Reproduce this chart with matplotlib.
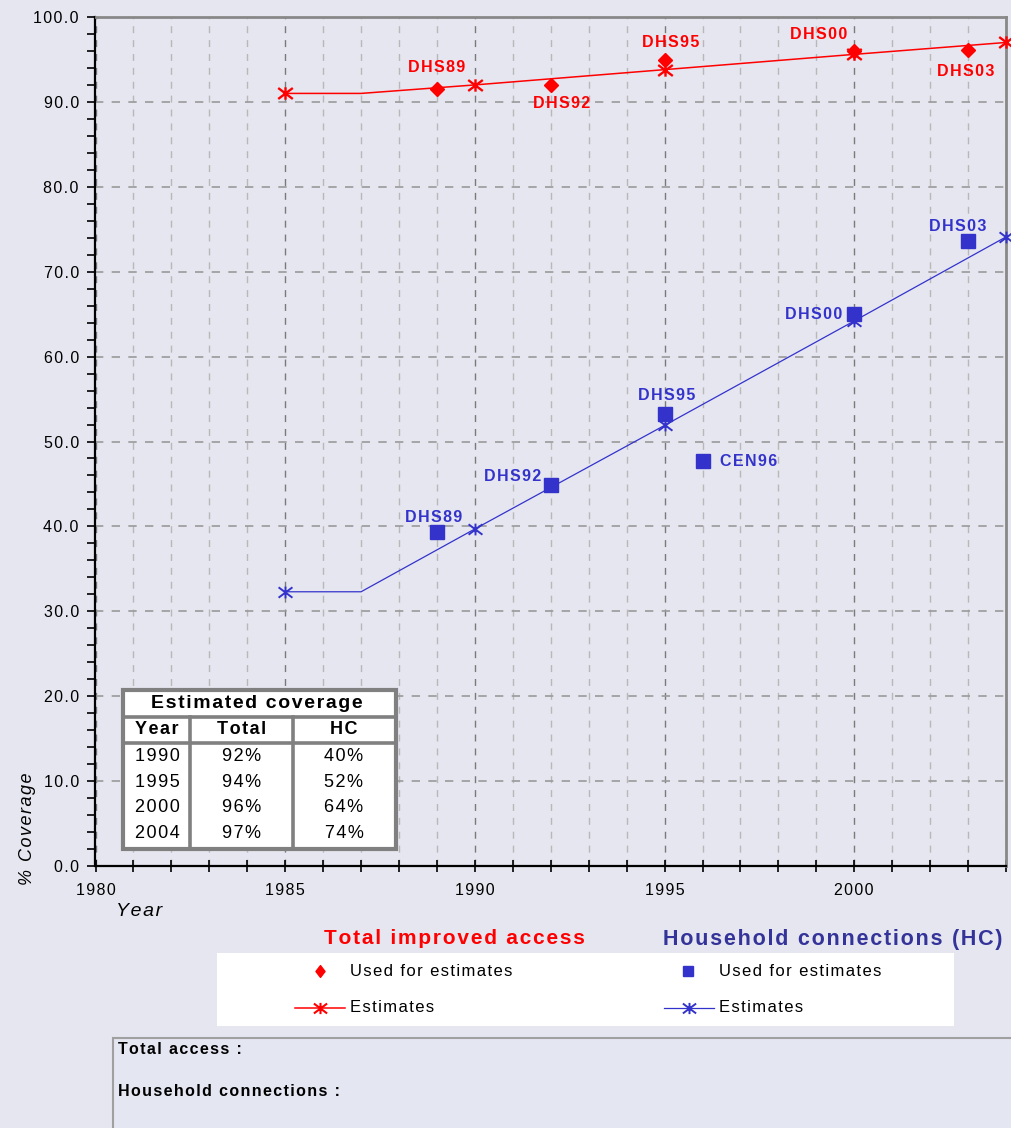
import matplotlib
matplotlib.use('Agg')
import matplotlib.pyplot as plt
from matplotlib.patches import Rectangle
from matplotlib.lines import Line2D
from matplotlib.path import Path
from matplotlib.ticker import MultipleLocator

plt.rcParams['font.family'] = ['Liberation Sans', 'DejaVu Sans']

# Datos del gráfico
total_est_years = [1985, 1987, 1990, 1995, 2000, 2004]
total_est = [91.0, 91.0, 92.0, 93.8, 95.6, 97.0]
total_srv_years = [1989, 1992, 1995, 2000, 2003]
total_srv = [91.5, 92.0, 94.9, 96.0, 96.1]
total_srv_labels = ['DHS89', 'DHS92', 'DHS95', 'DHS00', 'DHS03']

hc_est_years = [1985, 1987, 1990, 1995, 2000, 2004]
hc_est = [32.3, 32.3, 39.7, 51.9, 64.2, 74.1]
hc_srv_years = [1989, 1992, 1995, 1996, 2000, 2003]
hc_srv = [39.3, 44.9, 53.2, 47.7, 65.0, 73.6]
hc_srv_labels = ['DHS89', 'DHS92', 'DHS95', 'CEN96', 'DHS00', 'DHS03']

table_years = ['1990', '1995', '2000', '2004']
table_total = ['92%', '94%', '96%', '97%']
table_hc = ['40%', '52%', '64%', '74%']

# Posiciones de las etiquetas (desplazamiento en píxeles)
total_offsets = [(0, 22), (11, -19), (6, 18), (-36, 16), (-2, -21)]
hc_offsets = [(-3, 15), (-38, 8), (2, 19), (46, 0), (-41, 0), (-10, 15)]

RED = '#FF0000'
BLUE = '#3333CC'
NAVY = '#333399'
BG = '#E6E6F0'

W, H = 1012, 1128
fig = plt.figure(figsize=(W / 100, H / 100), dpi=100, facecolor=BG)


def fx(px):
    return px / W


def fy(py):
    return 1 - py / H


def sp(s):
    # espaciado entre letras con espacios finos
    return '\u200a'.join(s)


# Marcador tipo asterisco (X con barra vertical)
star = Path([(0, -0.85), (0, 0.85), (-1, -0.75), (1, 0.75), (-1, 0.75), (1, -0.75)],
            [Path.MOVETO, Path.LINETO, Path.MOVETO, Path.LINETO,
             Path.MOVETO, Path.LINETO])
# Rombo estrecho para la leyenda
thin_diamond = Path([(0, 1), (0.77, 0), (0, -1), (-0.77, 0), (0, 1)],
                    [Path.MOVETO, Path.LINETO, Path.LINETO, Path.LINETO,
                     Path.CLOSEPOLY])

ax = fig.add_axes([fx(95.5), fy(866), fx(1006) - fx(95.5), fy(17) - fy(866)])
ax.set_facecolor(BG)
ax.set_xlim(1980, 2004)
ax.set_ylim(0, 100)

ax.xaxis.set_minor_locator(MultipleLocator(1))
ax.yaxis.set_minor_locator(MultipleLocator(2))
xt = [1980, 1985, 1990, 1995, 2000]
ax.set_xticks(xt)
ax.set_xticklabels([sp(str(v)) for v in xt])
ax.set_yticks(range(0, 101, 10))
ax.set_yticklabels([sp(f'{v:.1f}') for v in range(0, 101, 10)])

ax.tick_params(axis='y', which='both', direction='out', length=6, width=1.2,
               labelsize=11.5, pad=6, colors='black')
ax.tick_params(axis='x', which='both', direction='inout', length=8, width=1.2,
               labelsize=11.5, pad=8)

dash = (0, (5, 5))
ax.xaxis.grid(True, which='major', color='#7A7A7A', linestyle=dash, lw=1)
ax.xaxis.grid(True, which='minor', color='#B8B8B8', linestyle=dash, lw=1)
ax.yaxis.grid(True, which='major', color='#9A9A9A', linestyle=dash, lw=1.2)
ax.yaxis.grid(False, which='minor')
ax.set_axisbelow(True)

ax.spines['left'].set_color('black')
ax.spines['left'].set_linewidth(1.6)
ax.spines['bottom'].set_color('black')
ax.spines['bottom'].set_linewidth(1.6)
ax.spines['top'].set_color('#888888')
ax.spines['top'].set_linewidth(2)
ax.spines['right'].set_color('#888888')
ax.spines['right'].set_linewidth(2)

# Total improved access
ax.plot(total_est_years, total_est, color=RED, lw=1.1, marker=star, ms=10.5,
        mew=1.7, markevery=[0, 2, 3, 4, 5], clip_on=False, zorder=3)
ax.plot(total_srv_years, total_srv, linestyle='none', marker='D', ms=6.8,
        color=RED, zorder=4)
for x, y, lab, off in zip(total_srv_years, total_srv, total_srv_labels, total_offsets):
    ax.annotate(sp(lab), (x, y), xytext=off, textcoords='offset pixels',
                ha='center', va='center', color=RED, fontsize=11.5,
                fontweight='bold')

# Household connections
ax.plot(hc_est_years, hc_est, color=BLUE, lw=0.9, marker=star, ms=10,
        mew=1.4, markevery=[0, 2, 3, 4, 5], clip_on=False, zorder=3)
ax.plot(hc_srv_years, hc_srv, linestyle='none', marker='s', ms=9.5,
        color=BLUE, zorder=4)
for x, y, lab, off in zip(hc_srv_years, hc_srv, hc_srv_labels, hc_offsets):
    ax.annotate(sp(lab), (x, y), xytext=off, textcoords='offset pixels',
                ha='center', va='center', color=BLUE, fontsize=11.5,
                fontweight='bold')

fig.text(fx(28), fy(829), sp('% Coverage'), rotation=90, style='italic',
         ha='center', va='center', fontsize=13)
fig.text(fx(116), fy(912), sp('Year'), style='italic', ha='left', va='center',
         fontsize=14)

# Capa superpuesta en píxeles para tabla, leyenda y recuadro inferior
ov = fig.add_axes([0, 0, 1, 1], facecolor='none')
ov.set_xlim(0, W)
ov.set_ylim(H, 0)
ov.axis('off')

# Tabla de cobertura estimada
gray = '#808080'
ov.add_patch(Rectangle((123, 690), 273, 159, facecolor='white',
                       edgecolor=gray, lw=3, zorder=5))
ov.plot([123, 396], [716.5, 716.5], color=gray, lw=2.6, zorder=6)
ov.plot([123, 396], [743, 743], color=gray, lw=2.6, zorder=6)
ov.plot([190, 190], [716.5, 849], color=gray, lw=2.6, zorder=6)
ov.plot([293.5, 293.5], [716.5, 849], color=gray, lw=2.6, zorder=6)
ov.text(257, 704, sp('Estimated coverage'), ha='center', va='center',
        fontsize=14, fontweight='bold', zorder=7)
for cx, lab in zip([157, 242, 344], ['Year', 'Total', 'HC']):
    ov.text(cx, 730, sp(lab), ha='center', va='center', fontsize=13,
            fontweight='bold', zorder=7)
for i, (yr, tt, hc) in enumerate(zip(table_years, table_total, table_hc)):
    ry = 756.5 + i * 25.6
    ov.text(157, ry, sp(yr), ha='center', va='center', fontsize=13, zorder=7)
    ov.text(242, ry, sp(tt), ha='center', va='center', fontsize=13, zorder=7)
    ov.text(344, ry, sp(hc), ha='center', va='center', fontsize=13, zorder=7)

# Leyenda
ov.text(454, 939, sp('Total improved access'), ha='center', va='center',
        color=RED, fontsize=15, fontweight='bold')
ov.text(1003, 939, sp('Household connections (HC)'), ha='right', va='center',
        color=NAVY, fontsize=15.5, fontweight='bold')
ov.add_patch(Rectangle((217, 953), 737, 73, facecolor='white',
                       edgecolor='none', zorder=2))
ov.add_line(Line2D([320], [971], marker=thin_diamond, ms=8.5, color=RED,
                   linestyle='none', zorder=3))
ov.add_line(Line2D([295, 320, 345], [1008, 1008, 1008], color=RED, lw=1.1,
                   marker=star, ms=9.5, mew=1.5, markevery=[1], zorder=3))
ov.add_line(Line2D([688], [971], marker='s', ms=7.5, color=BLUE,
                   linestyle='none', zorder=3))
ov.add_line(Line2D([664, 689, 714], [1008, 1008, 1008], color=BLUE, lw=0.9,
                   marker=star, ms=9.5, mew=1.4, markevery=[1], zorder=3))
for tx, ty, lab in [(350, 971, 'Used for estimates'), (350, 1008, 'Estimates'),
                    (719, 971, 'Used for estimates'), (719, 1008, 'Estimates')]:
    ov.text(tx, ty, sp(lab), ha='left', va='center', fontsize=12, zorder=4)

# Recuadro inferior
ov.add_patch(Rectangle((113, 1038), 920, 110, facecolor='#E4E6F2',
                       edgecolor='#A0A0A0', lw=1.5, zorder=1, clip_on=False))
ov.text(118, 1050, sp('Total access :'), ha='left', va='center', fontsize=11.5,
        fontweight='bold')
ov.text(118, 1091, sp('Household connections :'), ha='left', va='center',
        fontsize=11.5, fontweight='bold')

fig.savefig('out.png', dpi=100, facecolor=BG)
